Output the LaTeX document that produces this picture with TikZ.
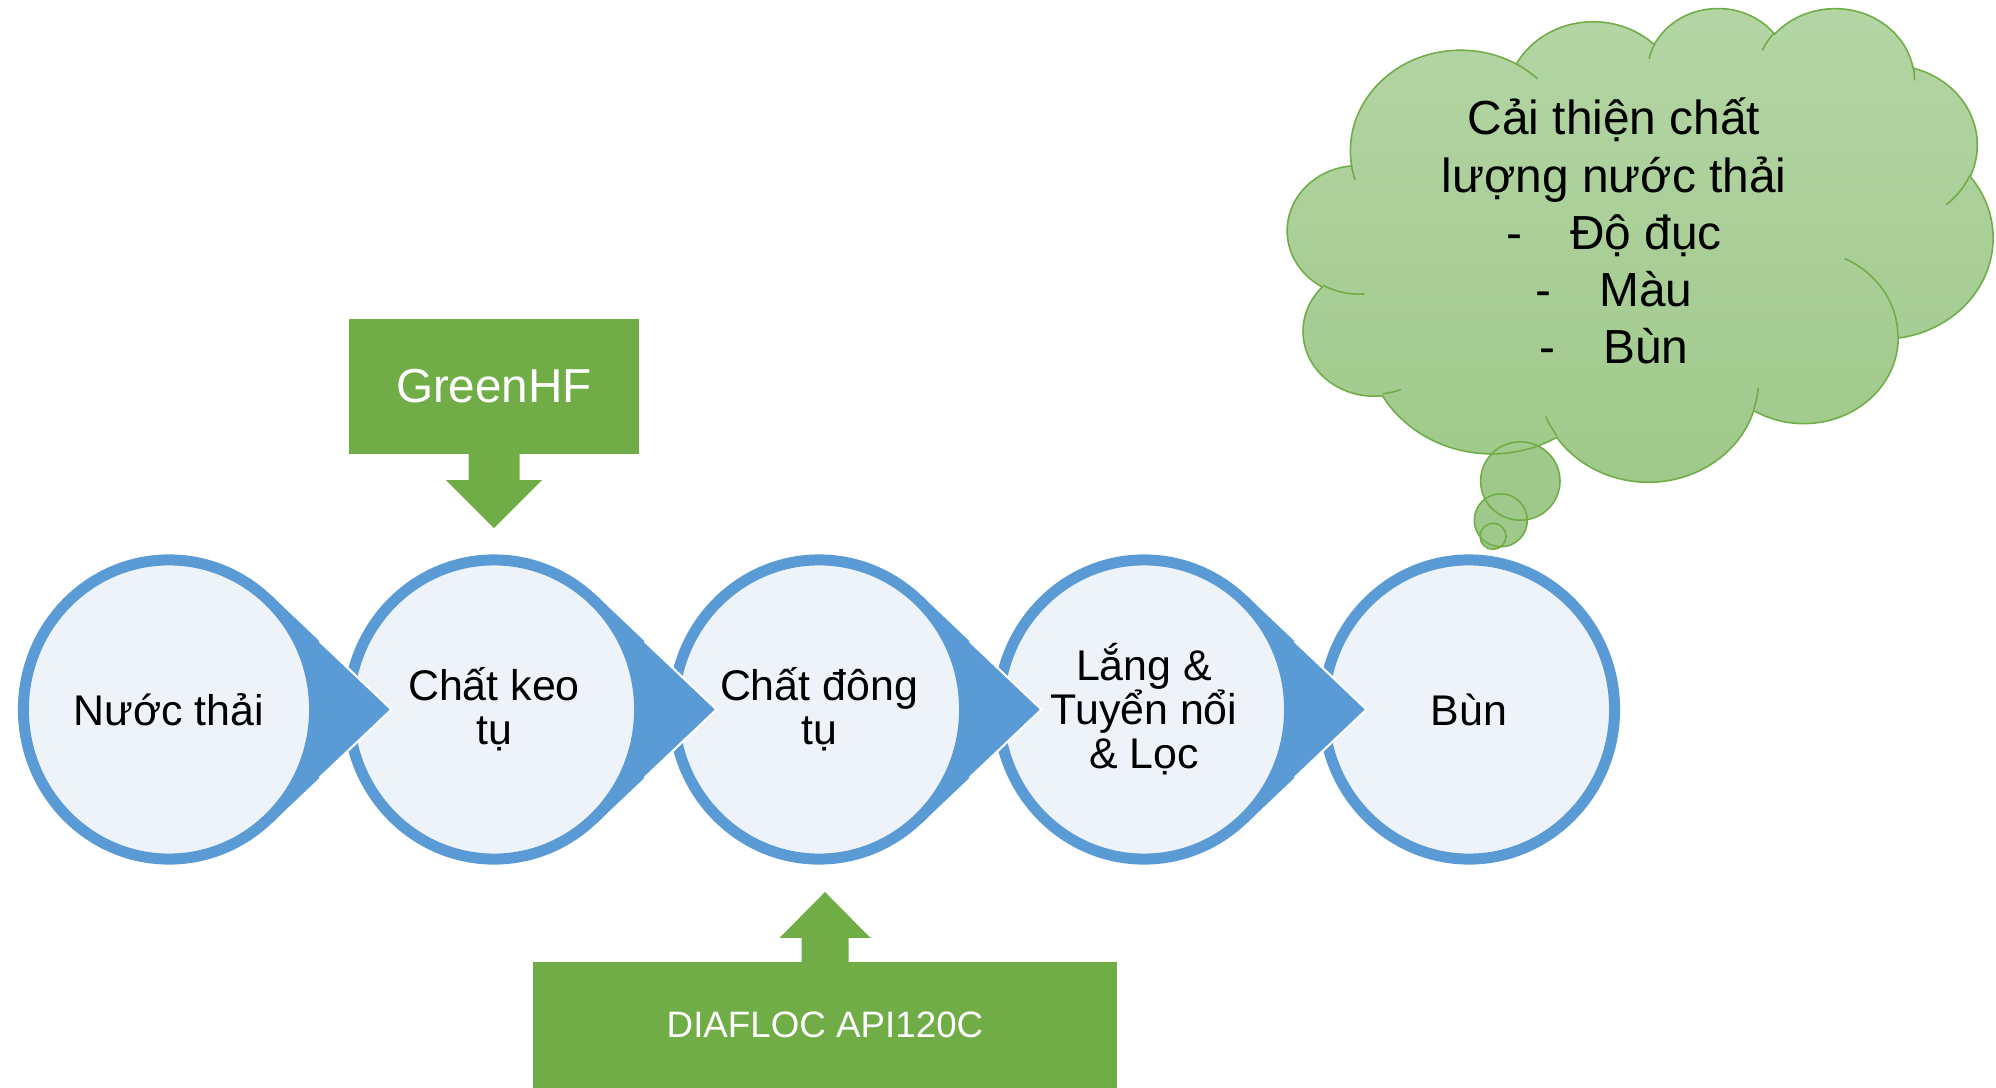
\documentclass[tikz,border=0pt]{standalone}
\usepackage{fontspec}
\setmainfont{Liberation Sans}
\usepackage{tikz}
\usetikzlibrary{shapes.geometric, positioning, calc}

\definecolor{stageblue}{HTML}{5B9BD5}
\definecolor{stagefill}{HTML}{EEF3FA}
\definecolor{chemgreen}{HTML}{70AD47}
\definecolor{cloudtop}{HTML}{B4D5A5}
\definecolor{cloudbottom}{HTML}{9FC98A}

\tikzset{
	stage/.style={ellipse, draw=stageblue, fill=stagefill, line width=0.11cm, minimum width=2.91cm, minimum height=2.99cm, inner sep=0pt, align=center, font={\fontsize{12.2}{12.5}\selectfont\lineskiplimit=-10pt}},
	tipedge/.style={draw=white, line width=0.6pt},
	chembox/.style={rectangle, fill=chemgreen, text=white, inner sep=0pt, outer sep=0pt},
	cloudline/.style={draw=chemgreen, line width=0.45pt},
}

\begin{document}
\begin{tikzpicture}[x=0.01cm, y=-0.01cm]
	\useasboundingbox (0,0) rectangle (1996,1088);
	
	\coordinate (row) at (169,709.5);
	\coordinate (c1) at (row);
	\coordinate (c2) at ($ (row) + (325,0) $);
	\coordinate (c3) at ($ (row) + (650,0) $);
	\coordinate (c4) at ($ (row) + (975,0) $);
	\coordinate (c5) at ($ (row) + (1300,0) $);
	
	\newcommand{\STAGETIP}[1]{\coordinate (#1tip) at ($ (#1.center) + (222.5,0) $);\coordinate (#1up) at ($ (#1.center) + (-47.25:151 and 155) $);\coordinate (#1lo) at ($ (#1.center) + (47.25:151 and 155) $);\fill[stageblue] (#1up) -- (#1tip) -- (#1lo) -- ($ (#1.center) + (47.25:146 and 150) $) arc[start angle=47.25, end angle=-47.25, x radius=146, y radius=150] -- cycle;\draw[tipedge] ($ (#1up)!0.4!(#1tip) $) -- (#1tip) -- ($ (#1lo)!0.4!(#1tip) $);}
	
	\node[stage] (s5) at (c5) {Bùn};
	\node[stage] (s4) at (c4) {Lắng \&\\Tuyển nổi\\\& Lọc};
	\STAGETIP{s4}
	\node[stage] (s3) at (c3) {Chất đông\\tụ};
	\STAGETIP{s3}
	\node[stage] (s2) at (c2) {Chất keo\\tụ};
	\STAGETIP{s2}
	\node[stage] (s1) at (c1) {Nước thải};
	\STAGETIP{s1}
	
	\node[chembox, minimum width=2.9cm, minimum height=1.35cm, font=\fontsize{13.55}{15}\selectfont] (greenhf) at (494,386.5) {GreenHF};
	\coordinate (greentip) at ($ (greenhf.south) + (0,74) $);
	\fill[chemgreen] ($ (greenhf.south) + (-25.5,-1) $) -- ++(0,27) -- ++(-22.5,0) -- (greentip) -- ($ (greenhf.south) + (48,26) $) -- ++(-22.5,0) -- ++(0,-27) -- cycle;
	
	\node[chembox, minimum width=5.84cm, minimum height=1.26cm, font=\fontsize{10.45}{12}\selectfont] (diafloc) at (825,1025) {DIAFLOC API120C};
	\coordinate (diatip) at ($ (diafloc.north) + (0,-70) $);
	\fill[chemgreen] ($ (diafloc.north) + (-23.5,1) $) -- ++(0,-25) -- ++(-22,0) -- (diatip) -- ($ (diafloc.north) + (45.5,-24) $) -- ++(-22,0) -- ++(0,25) -- cycle;
	
	\fill[cloudbottom] (1520.3,481) circle[x radius=39.7, y radius=39.2];
	\fill[cloudbottom] (1500.8,520.3) circle[radius=26.5];
	\fill[cloudbottom] (1493,536.3) circle[radius=13];
	
	\begin{scope}[shift={(12.87cm,-0.07cm)}, x=0.016319cm, y=-0.010949cm]
		\shadedraw[cloudline, top color=cloudtop, bottom color=cloudbottom] (39.00,143.70)
			arc[start angle=172.254, end angle=300.365, x radius=67.53, y radius=91.90]
			arc[start angle=-152.033, end angle=-45.439, x radius=53.33, y radius=72.67]
			arc[start angle=-153.491, end angle=-37.324, x radius=43.65, y radius=59.45]
			arc[start angle=-139.708, end angle=-10.212, x radius=48.57, y radius=65.95]
			arc[start angle=-74.768, end angle=23.208, x radius=53.33, y radius=72.73]
			arc[start angle=-37.524, end angle=81.862, x radius=67.75, y radius=92.20]
			arc[start angle=0.460, end angle=121.976, x radius=57.85, y radius=78.67]
			arc[start angle=16.845, end angle=146.26, x radius=67.52, y radius=92.15]
			arc[start angle=58.991, end angle=150.198, x radius=77.20, y radius=105.43]
			arc[start angle=83.306, end angle=223.113, x radius=43.60, y radius=59.18]
			arc[start angle=120.364, end angle=264.113, x radius=43.45, y radius=59.45]
			-- cycle;
		\draw[cloudline] (46.93,261.77) arc[start angle=85.547, end angle=120.364, x radius=43.45, y radius=59.45]
			(69.28,348.99) arc[start angle=68.231, end angle=83.306, x radius=43.60, y radius=59.18]
			(164.78,390.90) arc[start angle=146.26, end angle=158.472, x radius=67.52, y radius=92.15]
			(288.27,347.51) arc[start angle=4.738, end angle=16.845, x radius=67.52, y radius=92.15]
			(341.29,229.54) arc[start angle=-64.02, end angle=0.460, x radius=57.85, y radius=78.67]
			(417.98,153.54) arc[start angle=23.208, end angle=49.651, x radius=53.33, y radius=72.73]
			(383.24,54.26) arc[start angle=-10.212, end angle=0.817, x radius=48.57, y radius=65.95]
			(290.78,39.52) arc[start angle=-156.286, end angle=-139.708, x radius=48.57, y radius=65.95]
			(221.41,47.20) arc[start angle=-167.726, end angle=-153.491, x radius=43.65, y radius=59.45]
			(140.00,51.92) arc[start angle=-59.635, end angle=-45.720, x radius=67.53, y radius=91.90]
			(41.27,157.89) arc[start angle=163.194, end angle=172.254, x radius=67.53, y radius=91.90];
	\end{scope}
	
	\draw[cloudline] (1520.3,481) circle[x radius=39.7, y radius=39.2] (1500.8,520.3) circle[radius=26.5] (1493,536.3) circle[radius=13];
	
	\node[align=center, font={\fontsize{13.6}{16.25}\selectfont\lineskiplimit=-10pt}] (cloudtext) at (1614,231) {Cải thiện chất\\lượng nước thải\\-\hspace{0.48cm}Độ đục\\-\hspace{0.48cm}Màu\\-\hspace{0.48cm}Bùn};
	
\end{tikzpicture}
\end{document}
